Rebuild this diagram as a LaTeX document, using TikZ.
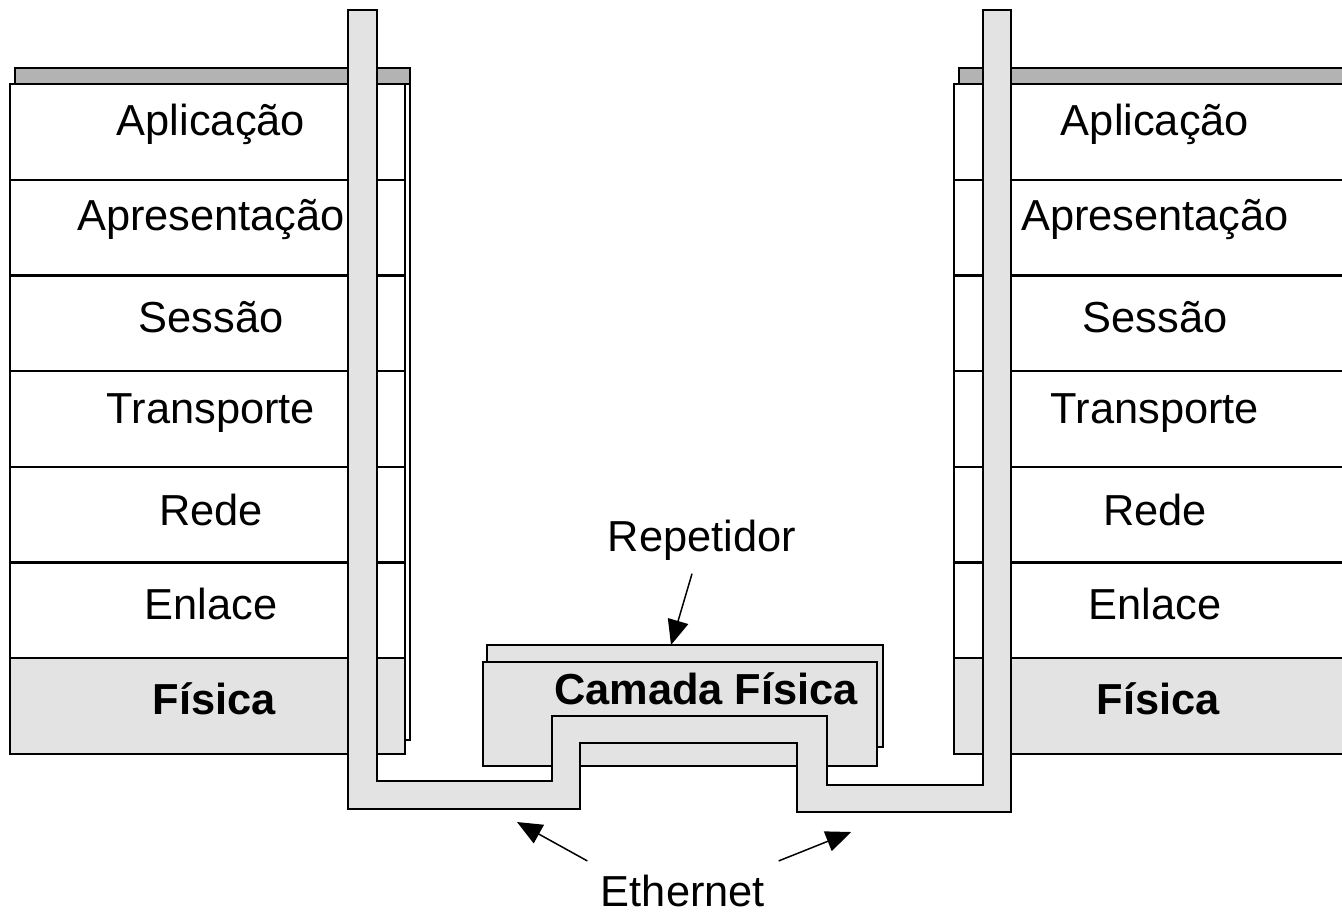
\documentclass[tikz,border=0pt]{standalone}
\usepackage{fontspec}
\setmainfont{Liberation Sans}
\usepackage{tikz}
\usetikzlibrary{arrows.meta, positioning, calc}

\definecolor{cablegray}{HTML}{E3E3E3}
\definecolor{stripgray}{HTML}{B3B3B3}
\newcommand{\layerfont}{\fontsize{24.7}{30}\selectfont}

\begin{document}
\begin{tikzpicture}[x=0.02cm, y=-0.02cm, line width=1.3pt,
    lbl/.style={font=\layerfont, inner sep=0.25cm},
    lblbold/.style={font=\layerfont\bfseries, inner sep=0.25cm},
    cable/.style={draw, fill=cablegray},
    tip/.style={-{Triangle[length=0.5cm, width=0.42cm]}, line width=0.85pt}]

    \useasboundingbox (0,0) rectangle (1342,917);

    \foreach \s/\dx in {L/0, R/944} {
        \begin{scope}[shift={(\dx,0)}]
            \draw [fill=white] (15,68) rectangle (410,740);
            \draw [fill=stripgray] (15,68) rectangle (410,84);
            \foreach \nm/\txt/\bl [count=\i] in {apl/Aplicação/135, apr/Apresentação/230, ses/Sessão/332, tra/Transporte/423, red/Rede/525, enl/Enlace/619} {
                \draw [fill=white] (10,{84+95.7*(\i-1)}) rectangle (405,{84+95.7*\i});
                \node [lbl, anchor=base] (\s\nm) at (211,\bl) {\txt};
            }
            \draw [cable] (10,658.2) rectangle (405,754);
            \node [lblbold, anchor=base] (\s fis) at (214,714) {Física};
        \end{scope}
    }

    \draw [cable] (487,645) rectangle (883,747);
    \draw [cable] (483,662) rectangle (877,766);
    \node [lblbold, anchor=base] (camada) at (706,704) {Camada Física};

    \draw [cable] (348,10) -- (377,10) -- (377,781) -- (552,781) -- (552,716) -- (827,716) -- (827,785) -- (983,785) -- (983,10) -- (1011,10) -- (1011,812) -- (797,812) -- (797,743) -- (580,743) -- (580,809) -- (348,809) -- cycle;

    \node [lbl, anchor=base] (repetidor) at (702,551) {Repetidor};
    \coordinate (reptop) at (671,645);
    \draw [tip] (repetidor) -- (reptop);

    \node [lbl, anchor=base] (ethernet) at (683,906) {Ethernet};
    \coordinate (ethleft) at (517,822);
    \coordinate (ethright) at (851,832);
    \draw [tip] (ethernet.north west) -- (ethleft);
    \draw [tip] (ethernet.north east) -- (ethright);
\end{tikzpicture}
\end{document}
